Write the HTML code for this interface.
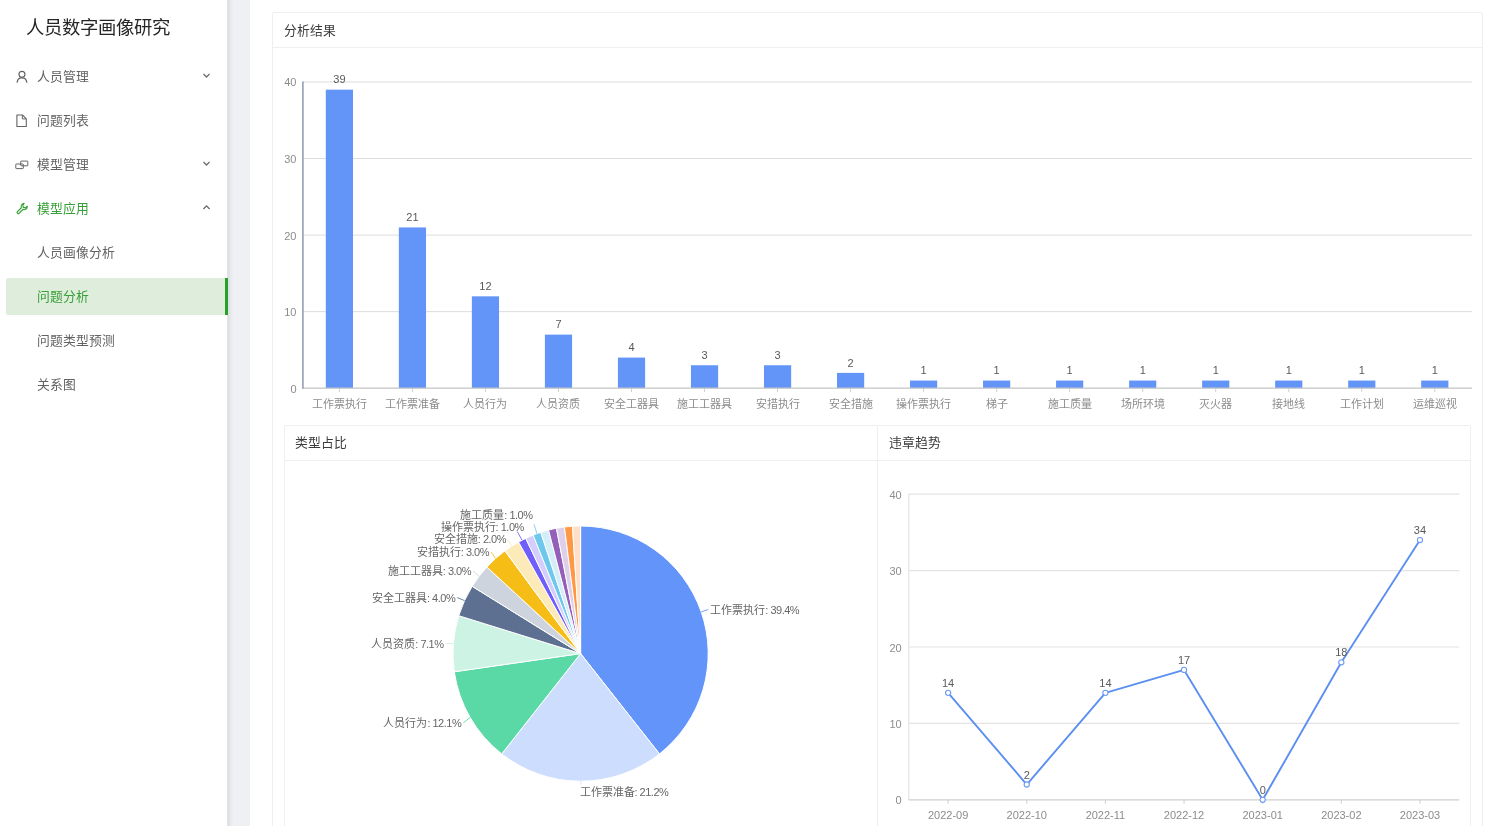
<!DOCTYPE html>
<html lang="zh-CN">
<head>
<meta charset="utf-8">
<title>人员数字画像研究</title>
<style>
html,body{margin:0;padding:0;background:#fff;}
body{width:1492px;height:839px;overflow:hidden;position:relative;font-family:"Liberation Sans", sans-serif;color:#595959;}
#app{position:absolute;left:0;top:0;width:1492px;height:825.5px;overflow:hidden;background:transparent;will-change:transform;}
#strip{position:absolute;left:227.3px;top:0;width:22.4px;height:826px;background:#eff0f4;}
#strip:before{content:"";position:absolute;left:0;top:0;width:7px;height:100%;background:linear-gradient(90deg,#e4e5e9 0,#dedfe3 12%,#e0e1e5 30%,#e9eaee 55%,#eff0f4 100%);}
#side{position:absolute;left:0;top:0;width:227.3px;height:826px;background:#fff;}
#title{position:absolute;left:26.1px;top:13.5px;font-size:18.33px;line-height:28px;color:#262626;white-space:nowrap;letter-spacing:0;}
.mi{position:absolute;left:6px;width:222px;height:36.6px;line-height:36.6px;font-size:12.8px;color:#636363;white-space:nowrap;}
.mi .tx{position:absolute;left:31px;top:1px;}
.mi .ic{position:absolute;left:8.5px;top:11px;width:14px;height:14px;}
.mi .arr{position:absolute;left:196px;top:13.3px;width:9px;height:9px;color:#6a6a6a;}
.mi.g{color:#35a035;}
.mi.sel{background:#dfeddc;color:#3aa03a;height:36.9px;border-radius:2px 0 0 2px;}
.mi.sel:after{content:"";position:absolute;right:0;top:0;width:2.8px;height:100%;background:#27a127;}
.card{position:absolute;box-sizing:border-box;border:1.2px solid #efefef;background:#fff;border-radius:2px;}
.ch{position:absolute;left:0;right:0;top:0;box-sizing:border-box;border-bottom:1.2px solid #efefef;font-size:12.8px;color:#3c3c3c;white-space:nowrap;}
svg text{font-family:"Liberation Sans", sans-serif;}
.ax{font-size:11px;fill:#8c8c8c;}
.vl{font-size:11px;fill:#595959;}
.pl{font-size:11px;fill:#666;}
.lt{letter-spacing:-0.5px;}
#charts{position:absolute;left:0;top:0;}
</style>
</head>
<body>
<div id="app">
  <div id="strip"></div>
  <div id="side">
    <div id="title">人员数字画像研究</div>
    <div class="mi" style="top:57.7px"><svg class="ic" viewBox="0 0 14 14"><circle cx="6.95" cy="5.35" r="3.0" fill="none" stroke="currentColor" stroke-width="1.15"/><path d="M2.1 13.7 C2.3 10.6 4.2 8.9 6.95 8.9 C9.7 8.9 11.6 10.6 11.8 13.7" fill="none" stroke="currentColor" stroke-width="1.15"/></svg><span class="tx">人员管理</span><svg class="arr" viewBox="0 0 10 10"><path d="M1.6 3.2 L5 6.6 L8.4 3.2" fill="none" stroke="currentColor" stroke-width="1.5"/></svg></div>
    <div class="mi" style="top:101.7px"><svg class="ic" viewBox="0 0 14 14"><path d="M1.9 1.95 H7.45 L11.3 5.8 V13.55 H1.9 Z" fill="none" stroke="currentColor" stroke-width="1.1" stroke-linejoin="round"/><path d="M7.35 2.1 V5.9 H11.15" fill="none" stroke="currentColor" stroke-width="1.0"/></svg><span class="tx">问题列表</span></div>
    <div class="mi" style="top:145.7px"><svg class="ic" viewBox="0 0 14 14"><rect x="0.8" y="7.0" width="7.5" height="4.6" rx="0.5" fill="none" stroke="currentColor" stroke-width="1"/><rect x="5.7" y="4.1" width="7.1" height="4.7" rx="0.5" fill="none" stroke="currentColor" stroke-width="1"/></svg><span class="tx">模型管理</span><svg class="arr" viewBox="0 0 10 10"><path d="M1.6 3.2 L5 6.6 L8.4 3.2" fill="none" stroke="currentColor" stroke-width="1.5"/></svg></div>
    <div class="mi g" style="top:189.7px"><svg class="ic" viewBox="0 0 14 14"><g transform="translate(0.9,0.9) scale(0.93)"><path d="M8.9 1.6 a3.4 3.4 0 0 0 -3.1 4.6 L1.6 10.4 a1.3 1.3 0 0 0 1.9 1.9 L7.7 8.1 a3.4 3.4 0 0 0 4.6 -3.6 L10.3 6.4 L8 5.9 L7.5 3.6 Z" fill="currentColor" fill-opacity="0.2" stroke="currentColor" stroke-width="1.15" stroke-linejoin="round"/></g></svg><span class="tx">模型应用</span><svg class="arr" viewBox="0 0 10 10"><path d="M1.6 6.6 L5 3.2 L8.4 6.6" fill="none" stroke="currentColor" stroke-width="1.5"/></svg></div>
    <div class="mi" style="top:233.7px"><span class="tx">人员画像分析</span></div>
    <div class="mi sel" style="top:277.9px"><span class="tx">问题分析</span></div>
    <div class="mi" style="top:321.7px"><span class="tx">问题类型预测</span></div>
    <div class="mi" style="top:365.7px"><span class="tx">关系图</span></div>
  </div>
  <div class="card" style="left:272px;top:12px;width:1211.4px;height:900px;">
    <div class="ch" style="height:34.8px;line-height:36px;padding-left:11px;">分析结果</div>
  </div>
  <div class="card" style="left:283.6px;top:424.5px;width:594.6px;height:600px;">
    <div class="ch" style="height:35.6px;line-height:34.6px;padding-left:10.8px;">类型占比</div>
  </div>
  <div class="card" style="left:877px;top:424.5px;width:594.4px;height:600px;">
    <div class="ch" style="height:35.6px;line-height:34.6px;padding-left:10.8px;">违章趋势</div>
  </div>
  <svg id="charts" width="1492" height="826" viewBox="0 0 1492 826">
<line x1="302.9" y1="311.65" x2="1472" y2="311.65" stroke="#dcdcdc" stroke-width="1"/>
<line x1="302.9" y1="235.10" x2="1472" y2="235.10" stroke="#dcdcdc" stroke-width="1"/>
<line x1="302.9" y1="158.55" x2="1472" y2="158.55" stroke="#dcdcdc" stroke-width="1"/>
<line x1="302.9" y1="82.00" x2="1472" y2="82.00" stroke="#dcdcdc" stroke-width="1"/>
<text x="296.5" y="392.60" text-anchor="end" class="ax">0</text>
<text x="296.5" y="316.05" text-anchor="end" class="ax">10</text>
<text x="296.5" y="239.50" text-anchor="end" class="ax">20</text>
<text x="296.5" y="162.95" text-anchor="end" class="ax">30</text>
<text x="296.5" y="86.40" text-anchor="end" class="ax">40</text>
<rect x="325.81" y="89.66" width="27.2" height="298.54" fill="#6395f9"/>
<text x="339.41" y="83.46" text-anchor="middle" class="vl">39</text>
<line x1="339.41" y1="388.2" x2="339.41" y2="392.0" stroke="#d0d0d0" stroke-width="1"/>
<text x="339.41" y="407.50" text-anchor="middle" class="ax">工作票执行</text>
<rect x="398.84" y="227.44" width="27.2" height="160.75" fill="#6395f9"/>
<text x="412.44" y="221.25" text-anchor="middle" class="vl">21</text>
<line x1="412.44" y1="388.2" x2="412.44" y2="392.0" stroke="#d0d0d0" stroke-width="1"/>
<text x="412.44" y="407.50" text-anchor="middle" class="ax">工作票准备</text>
<rect x="471.86" y="296.34" width="27.2" height="91.86" fill="#6395f9"/>
<text x="485.46" y="290.14" text-anchor="middle" class="vl">12</text>
<line x1="485.46" y1="388.2" x2="485.46" y2="392.0" stroke="#d0d0d0" stroke-width="1"/>
<text x="485.46" y="407.50" text-anchor="middle" class="ax">人员行为</text>
<rect x="544.89" y="334.62" width="27.2" height="53.58" fill="#6395f9"/>
<text x="558.49" y="328.42" text-anchor="middle" class="vl">7</text>
<line x1="558.49" y1="388.2" x2="558.49" y2="392.0" stroke="#d0d0d0" stroke-width="1"/>
<text x="558.49" y="407.50" text-anchor="middle" class="ax">人员资质</text>
<rect x="617.91" y="357.58" width="27.2" height="30.62" fill="#6395f9"/>
<text x="631.51" y="351.38" text-anchor="middle" class="vl">4</text>
<line x1="631.51" y1="388.2" x2="631.51" y2="392.0" stroke="#d0d0d0" stroke-width="1"/>
<text x="631.51" y="407.50" text-anchor="middle" class="ax">安全工器具</text>
<rect x="690.94" y="365.24" width="27.2" height="22.96" fill="#6395f9"/>
<text x="704.54" y="359.04" text-anchor="middle" class="vl">3</text>
<line x1="704.54" y1="388.2" x2="704.54" y2="392.0" stroke="#d0d0d0" stroke-width="1"/>
<text x="704.54" y="407.50" text-anchor="middle" class="ax">施工工器具</text>
<rect x="763.96" y="365.24" width="27.2" height="22.96" fill="#6395f9"/>
<text x="777.56" y="359.04" text-anchor="middle" class="vl">3</text>
<line x1="777.56" y1="388.2" x2="777.56" y2="392.0" stroke="#d0d0d0" stroke-width="1"/>
<text x="777.56" y="407.50" text-anchor="middle" class="ax">安措执行</text>
<rect x="836.99" y="372.89" width="27.2" height="15.31" fill="#6395f9"/>
<text x="850.59" y="366.69" text-anchor="middle" class="vl">2</text>
<line x1="850.59" y1="388.2" x2="850.59" y2="392.0" stroke="#d0d0d0" stroke-width="1"/>
<text x="850.59" y="407.50" text-anchor="middle" class="ax">安全措施</text>
<rect x="910.01" y="380.55" width="27.2" height="7.65" fill="#6395f9"/>
<text x="923.61" y="374.35" text-anchor="middle" class="vl">1</text>
<line x1="923.61" y1="388.2" x2="923.61" y2="392.0" stroke="#d0d0d0" stroke-width="1"/>
<text x="923.61" y="407.50" text-anchor="middle" class="ax">操作票执行</text>
<rect x="983.04" y="380.55" width="27.2" height="7.65" fill="#6395f9"/>
<text x="996.64" y="374.35" text-anchor="middle" class="vl">1</text>
<line x1="996.64" y1="388.2" x2="996.64" y2="392.0" stroke="#d0d0d0" stroke-width="1"/>
<text x="996.64" y="407.50" text-anchor="middle" class="ax">梯子</text>
<rect x="1056.06" y="380.55" width="27.2" height="7.65" fill="#6395f9"/>
<text x="1069.66" y="374.35" text-anchor="middle" class="vl">1</text>
<line x1="1069.66" y1="388.2" x2="1069.66" y2="392.0" stroke="#d0d0d0" stroke-width="1"/>
<text x="1069.66" y="407.50" text-anchor="middle" class="ax">施工质量</text>
<rect x="1129.09" y="380.55" width="27.2" height="7.65" fill="#6395f9"/>
<text x="1142.69" y="374.35" text-anchor="middle" class="vl">1</text>
<line x1="1142.69" y1="388.2" x2="1142.69" y2="392.0" stroke="#d0d0d0" stroke-width="1"/>
<text x="1142.69" y="407.50" text-anchor="middle" class="ax">场所环境</text>
<rect x="1202.11" y="380.55" width="27.2" height="7.65" fill="#6395f9"/>
<text x="1215.71" y="374.35" text-anchor="middle" class="vl">1</text>
<line x1="1215.71" y1="388.2" x2="1215.71" y2="392.0" stroke="#d0d0d0" stroke-width="1"/>
<text x="1215.71" y="407.50" text-anchor="middle" class="ax">灭火器</text>
<rect x="1275.14" y="380.55" width="27.2" height="7.65" fill="#6395f9"/>
<text x="1288.74" y="374.35" text-anchor="middle" class="vl">1</text>
<line x1="1288.74" y1="388.2" x2="1288.74" y2="392.0" stroke="#d0d0d0" stroke-width="1"/>
<text x="1288.74" y="407.50" text-anchor="middle" class="ax">接地线</text>
<rect x="1348.16" y="380.55" width="27.2" height="7.65" fill="#6395f9"/>
<text x="1361.76" y="374.35" text-anchor="middle" class="vl">1</text>
<line x1="1361.76" y1="388.2" x2="1361.76" y2="392.0" stroke="#d0d0d0" stroke-width="1"/>
<text x="1361.76" y="407.50" text-anchor="middle" class="ax">工作计划</text>
<rect x="1421.19" y="380.55" width="27.2" height="7.65" fill="#6395f9"/>
<text x="1434.79" y="374.35" text-anchor="middle" class="vl">1</text>
<line x1="1434.79" y1="388.2" x2="1434.79" y2="392.0" stroke="#d0d0d0" stroke-width="1"/>
<text x="1434.79" y="407.50" text-anchor="middle" class="ax">运维巡视</text>
<line x1="302.9" y1="388.2" x2="1472" y2="388.2" stroke="#c4c4c4" stroke-width="1.2"/>
<line x1="302.9" y1="81.5" x2="302.9" y2="388.8" stroke="#8e97ad" stroke-width="1.5"/>
<path d="M580.6,653.6 L580.60,526.00 A127.6,127.6 0 0 1 659.48,753.90 Z" fill="#6294F9" stroke="#ffffff" stroke-width="1" stroke-linejoin="round"/>
<path d="M580.6,653.6 L659.48,753.90 A127.6,127.6 0 0 1 501.72,753.90 Z" fill="#CDDDFD" stroke="#ffffff" stroke-width="1" stroke-linejoin="round"/>
<path d="M580.6,653.6 L501.72,753.90 A127.6,127.6 0 0 1 454.30,671.76 Z" fill="#5AD8A6" stroke="#ffffff" stroke-width="1" stroke-linejoin="round"/>
<path d="M580.6,653.6 L454.30,671.76 A127.6,127.6 0 0 1 458.75,615.71 Z" fill="#CDF3E4" stroke="#ffffff" stroke-width="1" stroke-linejoin="round"/>
<path d="M580.6,653.6 L458.75,615.71 A127.6,127.6 0 0 1 472.18,586.33 Z" fill="#5D7092" stroke="#ffffff" stroke-width="1" stroke-linejoin="round"/>
<path d="M580.6,653.6 L472.18,586.33 A127.6,127.6 0 0 1 486.87,567.02 Z" fill="#CED4DE" stroke="#ffffff" stroke-width="1" stroke-linejoin="round"/>
<path d="M580.6,653.6 L486.87,567.02 A127.6,127.6 0 0 1 504.94,550.85 Z" fill="#F6BD16" stroke="#ffffff" stroke-width="1" stroke-linejoin="round"/>
<path d="M580.6,653.6 L504.94,550.85 A127.6,127.6 0 0 1 518.56,542.10 Z" fill="#FCEBB9" stroke="#ffffff" stroke-width="1" stroke-linejoin="round"/>
<path d="M580.6,653.6 L518.56,542.10 A127.6,127.6 0 0 1 525.76,538.39 Z" fill="#6F5EF9" stroke="#ffffff" stroke-width="1" stroke-linejoin="round"/>
<path d="M580.6,653.6 L525.76,538.39 A127.6,127.6 0 0 1 533.18,535.14 Z" fill="#D3CEFD" stroke="#ffffff" stroke-width="1" stroke-linejoin="round"/>
<path d="M580.6,653.6 L533.18,535.14 A127.6,127.6 0 0 1 540.78,532.37 Z" fill="#6DC8EC" stroke="#ffffff" stroke-width="1" stroke-linejoin="round"/>
<path d="M580.6,653.6 L540.78,532.37 A127.6,127.6 0 0 1 548.55,530.09 Z" fill="#D3EEF9" stroke="#ffffff" stroke-width="1" stroke-linejoin="round"/>
<path d="M580.6,653.6 L548.55,530.09 A127.6,127.6 0 0 1 556.45,528.31 Z" fill="#945FB9" stroke="#ffffff" stroke-width="1" stroke-linejoin="round"/>
<path d="M580.6,653.6 L556.45,528.31 A127.6,127.6 0 0 1 564.45,527.03 Z" fill="#DECFEA" stroke="#ffffff" stroke-width="1" stroke-linejoin="round"/>
<path d="M580.6,653.6 L564.45,527.03 A127.6,127.6 0 0 1 572.51,526.26 Z" fill="#FF9845" stroke="#ffffff" stroke-width="1" stroke-linejoin="round"/>
<path d="M580.6,653.6 L572.51,526.26 A127.6,127.6 0 0 1 580.60,526.00 Z" fill="#FFE0C7" stroke="#ffffff" stroke-width="1" stroke-linejoin="round"/>
<polyline points="701.2,611.9 708.3,609.5" fill="none" stroke="#6294F9" stroke-width="1" opacity="0.85"/>
<text x="710.3" y="613.5" text-anchor="start" class="pl">工作票执行<tspan class="lt">: 39.4%</tspan></text>
<polyline points="580.6,781.2 581.1,784.6" fill="none" stroke="#CDDDFD" stroke-width="1" opacity="0.85"/>
<text x="579.5" y="795.6" text-anchor="start" class="pl">工作票准备<tspan class="lt">: 21.2%</tspan></text>
<polyline points="470.1,717.4 463.2,723.0" fill="none" stroke="#5AD8A6" stroke-width="1" opacity="0.85"/>
<text x="461.2" y="727.0" text-anchor="end" class="pl">人员行为<tspan class="lt">: 12.1%</tspan></text>
<polyline points="453.4,643.5 445.5,643.6" fill="none" stroke="#CDF3E4" stroke-width="1" opacity="0.85"/>
<text x="443.5" y="647.6" text-anchor="end" class="pl">人员资质<tspan class="lt">: 7.1%</tspan></text>
<polyline points="464.5,600.6 457.2,597.6" fill="none" stroke="#5D7092" stroke-width="1" opacity="0.85"/>
<text x="455.2" y="601.6" text-anchor="end" class="pl">安全工器具<tspan class="lt">: 4.0%</tspan></text>
<polyline points="479.1,576.3 473.0,570.9" fill="none" stroke="#CED4DE" stroke-width="1" opacity="0.85"/>
<text x="471.0" y="574.9" text-anchor="end" class="pl">施工工器具<tspan class="lt">: 3.0%</tspan></text>
<polyline points="495.5,558.5 491.0,552.0" fill="none" stroke="#F6BD16" stroke-width="1" opacity="0.85"/>
<text x="489.0" y="556.0" text-anchor="end" class="pl">安措执行<tspan class="lt">: 3.0%</tspan></text>
<polyline points="511.6,546.3 508.0,539.2" fill="none" stroke="#FCEBB9" stroke-width="1" opacity="0.85"/>
<text x="506.0" y="543.2" text-anchor="end" class="pl">安全措施<tspan class="lt">: 2.0%</tspan></text>
<polyline points="517.2,531.5 522.1,540.2" fill="none" stroke="#6F5EF9" stroke-width="1" opacity="0.85"/>
<text x="523.8" y="531.2" text-anchor="end" class="pl">操作票执行<tspan class="lt">: 1.0%</tspan></text>
<polyline points="534.0,524.3 537.0,533.7" fill="none" stroke="#6DC8EC" stroke-width="1" opacity="0.85"/>
<text x="532.5" y="518.8" text-anchor="end" class="pl">施工质量<tspan class="lt">: 1.0%</tspan></text>
<line x1="908.8" y1="723.40" x2="1459.3" y2="723.40" stroke="#e4e4e4" stroke-width="1.2"/>
<line x1="908.8" y1="647.00" x2="1459.3" y2="647.00" stroke="#e4e4e4" stroke-width="1.2"/>
<line x1="908.8" y1="570.60" x2="1459.3" y2="570.60" stroke="#e4e4e4" stroke-width="1.2"/>
<line x1="908.8" y1="494.20" x2="1459.3" y2="494.20" stroke="#e4e4e4" stroke-width="1.2"/>
<line x1="908.8" y1="493.7" x2="908.8" y2="800.3" stroke="#e4e4e4" stroke-width="1.2"/>
<line x1="908.8" y1="799.8" x2="1459.3" y2="799.8" stroke="#cfcfcf" stroke-width="1.2"/>
<text x="901.7" y="804.40" text-anchor="end" class="ax">0</text>
<text x="901.7" y="728.00" text-anchor="end" class="ax">10</text>
<text x="901.7" y="651.60" text-anchor="end" class="ax">20</text>
<text x="901.7" y="575.20" text-anchor="end" class="ax">30</text>
<text x="901.7" y="498.80" text-anchor="end" class="ax">40</text>
<line x1="948.12" y1="799.8" x2="948.12" y2="803.8" stroke="#cfcfcf" stroke-width="1"/>
<text x="948.12" y="819.20" text-anchor="middle" class="ax">2022-09</text>
<line x1="1026.76" y1="799.8" x2="1026.76" y2="803.8" stroke="#cfcfcf" stroke-width="1"/>
<text x="1026.76" y="819.20" text-anchor="middle" class="ax">2022-10</text>
<line x1="1105.41" y1="799.8" x2="1105.41" y2="803.8" stroke="#cfcfcf" stroke-width="1"/>
<text x="1105.41" y="819.20" text-anchor="middle" class="ax">2022-11</text>
<line x1="1184.05" y1="799.8" x2="1184.05" y2="803.8" stroke="#cfcfcf" stroke-width="1"/>
<text x="1184.05" y="819.20" text-anchor="middle" class="ax">2022-12</text>
<line x1="1262.69" y1="799.8" x2="1262.69" y2="803.8" stroke="#cfcfcf" stroke-width="1"/>
<text x="1262.69" y="819.20" text-anchor="middle" class="ax">2023-01</text>
<line x1="1341.34" y1="799.8" x2="1341.34" y2="803.8" stroke="#cfcfcf" stroke-width="1"/>
<text x="1341.34" y="819.20" text-anchor="middle" class="ax">2023-02</text>
<line x1="1419.98" y1="799.8" x2="1419.98" y2="803.8" stroke="#cfcfcf" stroke-width="1"/>
<text x="1419.98" y="819.20" text-anchor="middle" class="ax">2023-03</text>
<polyline points="948.12,692.84 1026.76,784.52 1105.41,692.84 1184.05,669.92 1262.69,799.80 1341.34,662.28 1419.98,540.04" fill="none" stroke="#5b8ff0" stroke-width="1.9" stroke-linejoin="round"/>
<text x="948.12" y="687.04" text-anchor="middle" class="vl">14</text>
<text x="1026.76" y="778.72" text-anchor="middle" class="vl">2</text>
<text x="1105.41" y="687.04" text-anchor="middle" class="vl">14</text>
<text x="1184.05" y="664.12" text-anchor="middle" class="vl">17</text>
<text x="1262.69" y="794.00" text-anchor="middle" class="vl">0</text>
<text x="1341.34" y="656.48" text-anchor="middle" class="vl">18</text>
<text x="1419.98" y="534.24" text-anchor="middle" class="vl">34</text>
<circle cx="948.12" cy="692.84" r="2.6" fill="#ffffff" stroke="#6d9bf5" stroke-width="1.1"/>
<circle cx="1026.76" cy="784.52" r="2.6" fill="#ffffff" stroke="#6d9bf5" stroke-width="1.1"/>
<circle cx="1105.41" cy="692.84" r="2.6" fill="#ffffff" stroke="#6d9bf5" stroke-width="1.1"/>
<circle cx="1184.05" cy="669.92" r="2.6" fill="#ffffff" stroke="#6d9bf5" stroke-width="1.1"/>
<circle cx="1262.69" cy="799.80" r="2.6" fill="#ffffff" stroke="#6d9bf5" stroke-width="1.1"/>
<circle cx="1341.34" cy="662.28" r="2.6" fill="#ffffff" stroke="#6d9bf5" stroke-width="1.1"/>
<circle cx="1419.98" cy="540.04" r="2.6" fill="#ffffff" stroke="#6d9bf5" stroke-width="1.1"/>
  </svg>
</div>
</body>
</html>
